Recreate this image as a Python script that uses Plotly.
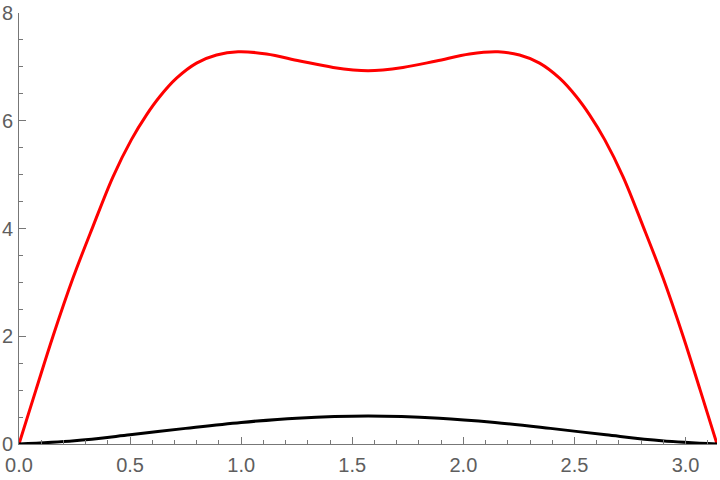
import plotly.graph_objects as go

# values
red_x = [0.000, 0.076, 0.153, 0.243, 0.333, 0.423, 0.506, 0.574, 0.634, 0.709, 0.799,
         0.889, 0.986, 1.114, 1.264, 1.414, 1.571,
         1.728, 1.878, 2.028, 2.156, 2.253, 2.343, 2.433, 2.508, 2.568, 2.636,
         2.719, 2.809, 2.899, 2.989, 3.066, 3.1416]
red_y = [0.00, 1.00, 2.00, 3.08, 4.04, 4.96, 5.65, 6.11, 6.45, 6.79, 7.07,
         7.22, 7.28, 7.24, 7.11, 6.99, 6.93,
         6.99, 7.11, 7.24, 7.28, 7.22, 7.07, 6.79, 6.45, 6.11, 5.65,
         4.96, 4.04, 3.08, 2.00, 1.00, 0.00]

black_x = [0.0, 0.25, 0.5, 0.75, 1.0, 1.25, 1.571, 1.892, 2.142, 2.392, 2.642, 2.892, 3.1416]
black_y = [0.0, 0.06, 0.17, 0.29, 0.40, 0.48, 0.52, 0.48, 0.40, 0.29, 0.17, 0.06, 0.0]

x_ticks = [0.0, 0.5, 1.0, 1.5, 2.0, 2.5, 3.0]
y_ticks = [0, 2, 4, 6, 8]

axis_grey = "#777777"
label_grey = "#5e5e5e"

fig = go.Figure()
fig.add_trace(go.Scatter(x=red_x, y=red_y, mode="lines",
                         line=dict(color="#ff0000", width=3, shape="spline", smoothing=1.0),
                         showlegend=False))
fig.add_trace(go.Scatter(x=black_x, y=black_y, mode="lines",
                         line=dict(color="#000000", width=3, shape="spline", smoothing=1.0),
                         showlegend=False))

fig.update_layout(
    width=720, height=480,
    margin=dict(l=19, r=3, t=13, b=36, autoexpand=False),
    plot_bgcolor="white", paper_bgcolor="white",
    font=dict(family="Liberation Sans, Arial, sans-serif", size=20, color=label_grey),
)
fig.update_xaxes(
    range=[0, 3.1416], showgrid=False, zeroline=False,
    showline=True, linecolor=axis_grey, linewidth=1,
    tickmode="array", tickvals=x_ticks, ticktext=["%.1f" % v for v in x_ticks],
    ticks="inside", ticklen=7, tickcolor=axis_grey, tickwidth=1,
    minor=dict(ticks="inside", dtick=0.1, tick0=0, ticklen=4, tickcolor=axis_grey, showgrid=False),
    ticklabelstandoff=3,
)
fig.update_yaxes(
    range=[0, 8], showgrid=False, zeroline=False,
    showline=True, linecolor=axis_grey, linewidth=1,
    tickmode="array", tickvals=y_ticks,
    ticks="inside", ticklen=7, tickcolor=axis_grey, tickwidth=1,
    minor=dict(ticks="inside", dtick=0.5, tick0=0, ticklen=4, tickcolor=axis_grey, showgrid=False),
    ticklabelstandoff=1,
)

fig.write_html("out.html", config={"displayModeBar": False},
               post_script="document.body.style.margin='0';")
